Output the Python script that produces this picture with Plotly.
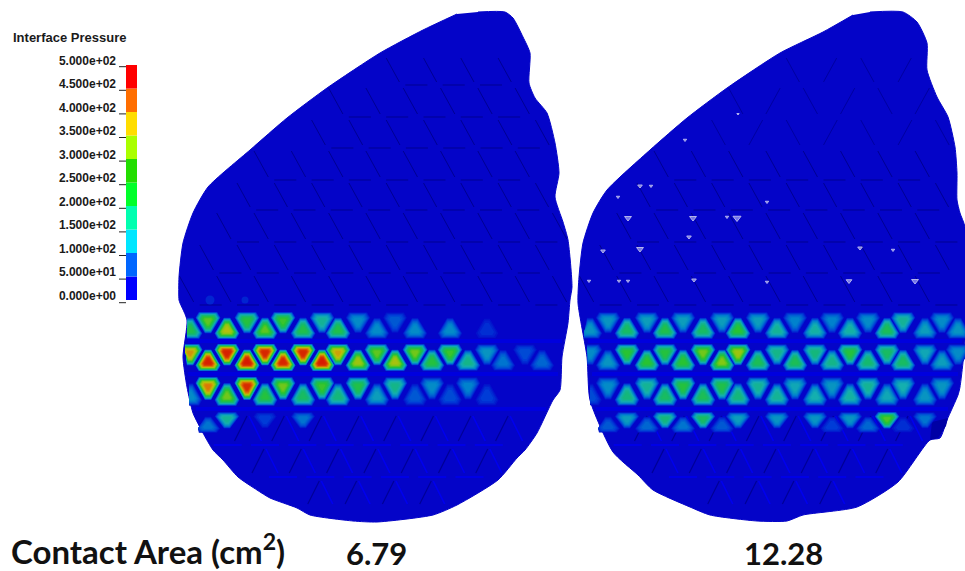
import numpy as np
import plotly.graph_objects as go

# ---------- data ----------
LEFT_X = [478,505,513,523,530,529,535,547,555,559,555,563,568,572,570,568,562,560,553,537,525,517,498,457,433,377,353,310,297,270,257,238,223,213,203,193,187,183,187,180,179,179,183,193,208,250,287,327,380,423,457]
LEFT_Y = [12,12,18,37,53,83,98,113,143,173,197,222,240,287,300,323,357,390,400,433,450,458,480,505,515,522,521,515,508,498,490,477,460,450,433,413,387,357,320,303,300,277,243,213,187,150,118,88,53,30,14]
RIGHT_X = [870,903,917,927,927,937,948,955,957,957,960,965,965,960,958,947,940,930,898,857,803,787,757,710,690,653,638,613,590,587,578,579,583,593,607,650,687,727,780,823,853]
RIGHT_Y = [12,12,22,43,70,97,117,147,173,200,213,227,340,387,395,420,438,440,482,507,515,521,521,515,507,490,475,452,400,357,303,277,243,213,190,150,118,88,53,32,15]

COLUMN_X = [190,208,227,247,265,283,303,322,338,358,377,395,415,432,450,468,487,503,525,542,558]
ROW_TOP = [312,344,377,412]
ROW_BOTTOM = [339,371,406,433]
ROW_EVEN_COLUMNS_UP = [True,False,True,False]
LEFT_CLIP = [187,185,189,198]
RIGHT_CLIP = [584,587,590,598]

LEFT_PRESSURE = [
    [230,280,340,240,280,260,230,170,230,110,110,70,110,0,110,0,40,0,0,0,0],
    [380,480,480,490,470,470,470,490,370,320,280,330,290,240,260,180,120,90,60,80,0],
    [110,400,290,460,240,290,210,260,190,230,130,180,70,110,60,100,50,0,0,0,0],
    [0,90,170,0,50,0,90,0,0,0,0,0,0,0,0,0,0,0,0,0,0],
]
RIGHT_PRESSURE = [
    [120,120,210,130,230,130,210,130,250,130,170,100,160,100,160,110,220,170,130,110,120],
    [110,120,250,250,240,250,290,300,320,220,180,220,190,180,240,200,210,210,140,130,110],
    [60,110,190,170,210,240,220,230,190,170,170,140,150,120,160,170,140,150,120,120,0],
    [0,70,130,80,190,90,210,70,130,0,120,0,120,50,120,80,270,40,90,0,0],
]
PANEL_SHIFT = 400

UPPER_ROW_TOP = [55,85,117,148,180,210,242,273]
UPPER_ROW_BOTTOM = [85,117,148,180,210,242,273,305]
UPPER_ROW_ANCHOR = [237,254,237,254,237,254,237,254]
LOWER_ROW_TOP = [412,445,477]
LOWER_ROW_BOTTOM = [445,477,508]
LOWER_ROW_ANCHOR = [248,265,283]
GAP_ROWS = [341,374,409]
GRID_STEP = 37.3

SPECK_X = [640,651,618,628,693,727,737,603,640,689,619,628,694,589,767,685,767,849,915,860,893,738]
SPECK_Y = [186,186,197,218,218,217,218,251,249,237,281,281,280,281,202,140,282,281,281,248,250,114]
SPECK_SIZE = [4,3,3,6,6,3,7,4,6,4,3,3,4,3,3,3,3,5,6,4,3,2]

SPOT_X = [210,245]
SPOT_Y = [300,300]
SPOT_SIZE = [9,7]

LEGEND_VALUES = [0,50,100,150,200,250,300,350,400,450,500]
LEGEND_LABELS = ["0.000e+00","5.000e+01","1.000e+02","1.500e+02","2.000e+02","2.500e+02","3.000e+02","3.500e+02","4.000e+02","4.500e+02","5.000e+02"]
LEGEND_COLORS = ["#0000ff","#0066ff","#00e6ff","#00ffb0","#00ff2a","#22dd00","#aaff00","#ffdd00","#ff6e00","#ff0000"]

# muted ramp of the blurred contours: value, colour
RAMP_V = [0,40,90,140,190,240,290,340,390,440,500]
RAMP_R = [5,0,0,20,20,40,130,190,220,215,215]
RAMP_G = [5,60,130,175,185,195,200,190,120,50,15]
RAMP_B = [200,215,205,175,110,50,20,10,5,0,0]

BODY = "rgb(4,4,200)"
DARK = "rgb(0,0,145)"
BRIGHT = "rgb(0,0,238)"
GAP = "rgb(0,0,222)"


def ramp(v):
    return "rgb(%d,%d,%d)" % (np.interp(v,RAMP_V,RAMP_R),np.interp(v,RAMP_V,RAMP_G),np.interp(v,RAMP_V,RAMP_B))


def inside(px,py,xs,ys):
    c=False
    n=len(xs)
    for i in range(n):
        j=(i-1)%n
        if (ys[i]>py)!=(ys[j]>py) and px<(xs[j]-xs[i])*(py-ys[i])/(ys[j]-ys[i])+xs[i]:
            c=not c
    return c


def blob(cx,top,bottom,up,s,xmin):
    hw=16
    if up:
        v=[(cx,top),(cx+hw,bottom),(cx-hw,bottom)]
    else:
        v=[(cx-hw,top),(cx+hw,top),(cx,bottom)]
    gx=sum(p[0] for p in v)/3
    gy=sum(p[1] for p in v)/3
    v=[(gx+(p[0]-gx)*s,gy+(p[1]-gy)*s) for p in v]
    out=[]
    for i in range(3):
        a=v[i]; b=v[(i+1)%3]
        out.append((a[0]+(b[0]-a[0])*.2,a[1]+(b[1]-a[1])*.2))
        out.append((a[0]+(b[0]-a[0])*.8,a[1]+(b[1]-a[1])*.8))
    out.append(out[0])
    return [max(p[0],xmin) for p in out],[p[1] for p in out]


def line_trace(xs,ys,color,width):
    return go.Scatter(x=xs,y=ys,mode="lines",line=dict(color=color,width=width),hoverinfo="skip",showlegend=False)


fig=go.Figure()
for X,Y in ((LEFT_X,LEFT_Y),(RIGHT_X,RIGHT_Y)):
    fig.add_trace(go.Scatter(x=X,y=Y,mode="lines",fill="toself",fillcolor=BODY,line=dict(color=BODY,width=1,shape="spline",smoothing=0.6),hoverinfo="skip",showlegend=False))

# darker tab at the lower right of the second panel
TAB_X=[932,948,946,938,930]
TAB_Y=[422,418,426,438,440]
fig.add_trace(go.Scatter(x=TAB_X,y=TAB_Y,mode="lines",fill="toself",fillcolor="rgb(0,0,165)",line=dict(width=0),hoverinfo="skip",showlegend=False))

# mesh lines
dark_x=[];dark_y=[];soft_x=[];soft_y=[];bright_x=[];bright_y=[];band_x=[];band_y=[];low_x=[];low_y=[]
for shift,X,Y in ((0,LEFT_X,LEFT_Y),(PANEL_SHIFT,RIGHT_X,RIGHT_Y)):
    for top,bot,anc in zip(UPPER_ROW_TOP,UPPER_ROW_BOTTOM,UPPER_ROW_ANCHOR):
        for i in range(-2,10):
            x0=anc+i*GRID_STEP+shift
            x1=x0+(bot-top-6)*0.55
            if not(inside(x0,top+3,X,Y) and inside(x1,bot-3,X,Y)):
                continue
            if shift and top<148:
                soft_x+=[x1,x0,None] if i%2 else [x0,x1,None]
                soft_y+=[top+3,bot-3,None]
            else:
                dark_x+=[x0,x1,None]; dark_y+=[top+3,bot-3,None]
                if inside(x1+30,bot,X,Y):
                    dark_x+=[x1+6,x1+28,None]; dark_y+=[bot,bot,None]
    for y in GAP_ROWS:
        xs=[x for x in np.arange(150,980,2.0)+shift if inside(x,y,X,Y)]
        band_x+=[xs[0]+2,xs[-1]-2,None]; band_y+=[y,y,None]
    for top,bot,anc in zip(LOWER_ROW_TOP,LOWER_ROW_BOTTOM,LOWER_ROW_ANCHOR):
        for i in range(-1,9):
            x0=anc+i*GRID_STEP+shift
            dx=(bot-top-8)*0.5
            if inside(x0-dx,bot-4,X,Y) and inside(x0+dx,bot-4,X,Y) and inside(x0,top+4,X,Y):
                low_x+=[x0-1,x0-dx-1,None]; low_y+=[top+4,bot-4,None]
                bright_x+=[x0+1,x0+dx+1,None]; bright_y+=[top+4,bot-4,None]
            if top>412 and inside(x0-14,top,X,Y) and inside(x0+14,top,X,Y):
                bright_x+=[x0-14,x0+14,None]; bright_y+=[top,top,None]

fig.add_trace(line_trace(band_x,band_y,GAP,4))
fig.add_trace(line_trace(dark_x,dark_y,DARK,1))
fig.add_trace(line_trace(soft_x,soft_y,"rgb(0,0,160)",1))
fig.add_trace(line_trace(low_x,low_y,"rgb(0,0,150)",1.2))
fig.add_trace(line_trace(bright_x,bright_y,BRIGHT,1.6))

# faint isolated contact spots
fig.add_trace(go.Scatter(x=SPOT_X,y=SPOT_Y,mode="markers",marker=dict(size=SPOT_SIZE,color="rgb(0,50,212)",line=dict(width=0)),hoverinfo="skip",showlegend=False))

# contact pressure: nested contours per mesh triangle
for level in np.arange(10,500,10):
    px=[];py=[]
    for shift,table,clip in ((0,LEFT_PRESSURE,LEFT_CLIP),(PANEL_SHIFT,RIGHT_PRESSURE,RIGHT_CLIP)):
        for r,row in enumerate(table):
            for c,val in enumerate(row):
                if val<=level:
                    continue
                up=(c%2==0)==ROW_EVEN_COLUMNS_UP[r]
                s=(1-level/val)**0.42
                xs,ys=blob(COLUMN_X[c]+shift,ROW_TOP[r],ROW_BOTTOM[r],up,s,clip[r])
                px+=xs+[None]; py+=ys+[None]
    if px:
        fig.add_trace(go.Scatter(x=px,y=py,mode="lines",fill="toself",fillcolor=ramp(level),line=dict(width=0),hoverinfo="skip",showlegend=False))

# pale specks of the second panel
fig.add_trace(go.Scatter(x=SPECK_X,y=SPECK_Y,mode="markers",marker=dict(symbol="triangle-down",size=SPECK_SIZE,color="rgb(165,165,250)"),hoverinfo="skip",showlegend=False))

# legend
legend_y=lambda v:300-v*0.47
tick_y=lambda v:302.7-v*0.472
label_y=lambda v:296.7-v*0.47
for i,col in enumerate(LEGEND_COLORS):
    fig.add_trace(go.Bar(x=[131.5],y=[legend_y(LEGEND_VALUES[i+1])-legend_y(LEGEND_VALUES[i])],base=[legend_y(LEGEND_VALUES[i])],width=[11],marker=dict(color=col,line=dict(width=0)),hoverinfo="skip",showlegend=False))
tx=[];ty=[]
for v in LEGEND_VALUES:
    tx+=[119,126,None]; ty+=[tick_y(v),tick_y(v),None]
fig.add_trace(line_trace(tx,ty,"#222222",1))
fig.add_trace(go.Scatter(x=[116]*len(LEGEND_VALUES),y=[label_y(v) for v in LEGEND_VALUES],mode="text",text=["<b>%s</b>"%t for t in LEGEND_LABELS],textposition="middle left",textfont=dict(family="Liberation Sans",size=12,color="#1a1a1a"),hoverinfo="skip",showlegend=False))

ann=[
    dict(x=11,y=37,text="<b>Interface Pressure</b>",xanchor="left",font=dict(family="Liberation Sans",size=13,color="#1a1a1a")),
    dict(x=9,y=549,text="<b>Contact Area (cm<sup>2</sup>)</b>",xanchor="left",font=dict(family="Lato",size=33,color="#111111")),
    dict(x=376,y=553,text="<b>6.79</b>",xanchor="center",font=dict(family="Lato",size=31,color="#111111")),
    dict(x=783,y=553,text="<b>12.28</b>",xanchor="center",font=dict(family="Lato",size=31,color="#111111")),
]
for a in ann:
    a.update(xref="x",yref="y",showarrow=False,yanchor="middle")

fig.update_layout(width=965,height=571,margin=dict(l=0,r=0,t=0,b=0),plot_bgcolor="white",paper_bgcolor="white",showlegend=False,annotations=ann,barmode="overlay",
    xaxis=dict(range=[0,965],visible=False,fixedrange=True),
    yaxis=dict(range=[571,0],visible=False,fixedrange=True))
fig.write_html("out.html",config=dict(displayModeBar=False),post_script="document.body.style.margin='0';document.body.style.overflow='hidden';")
